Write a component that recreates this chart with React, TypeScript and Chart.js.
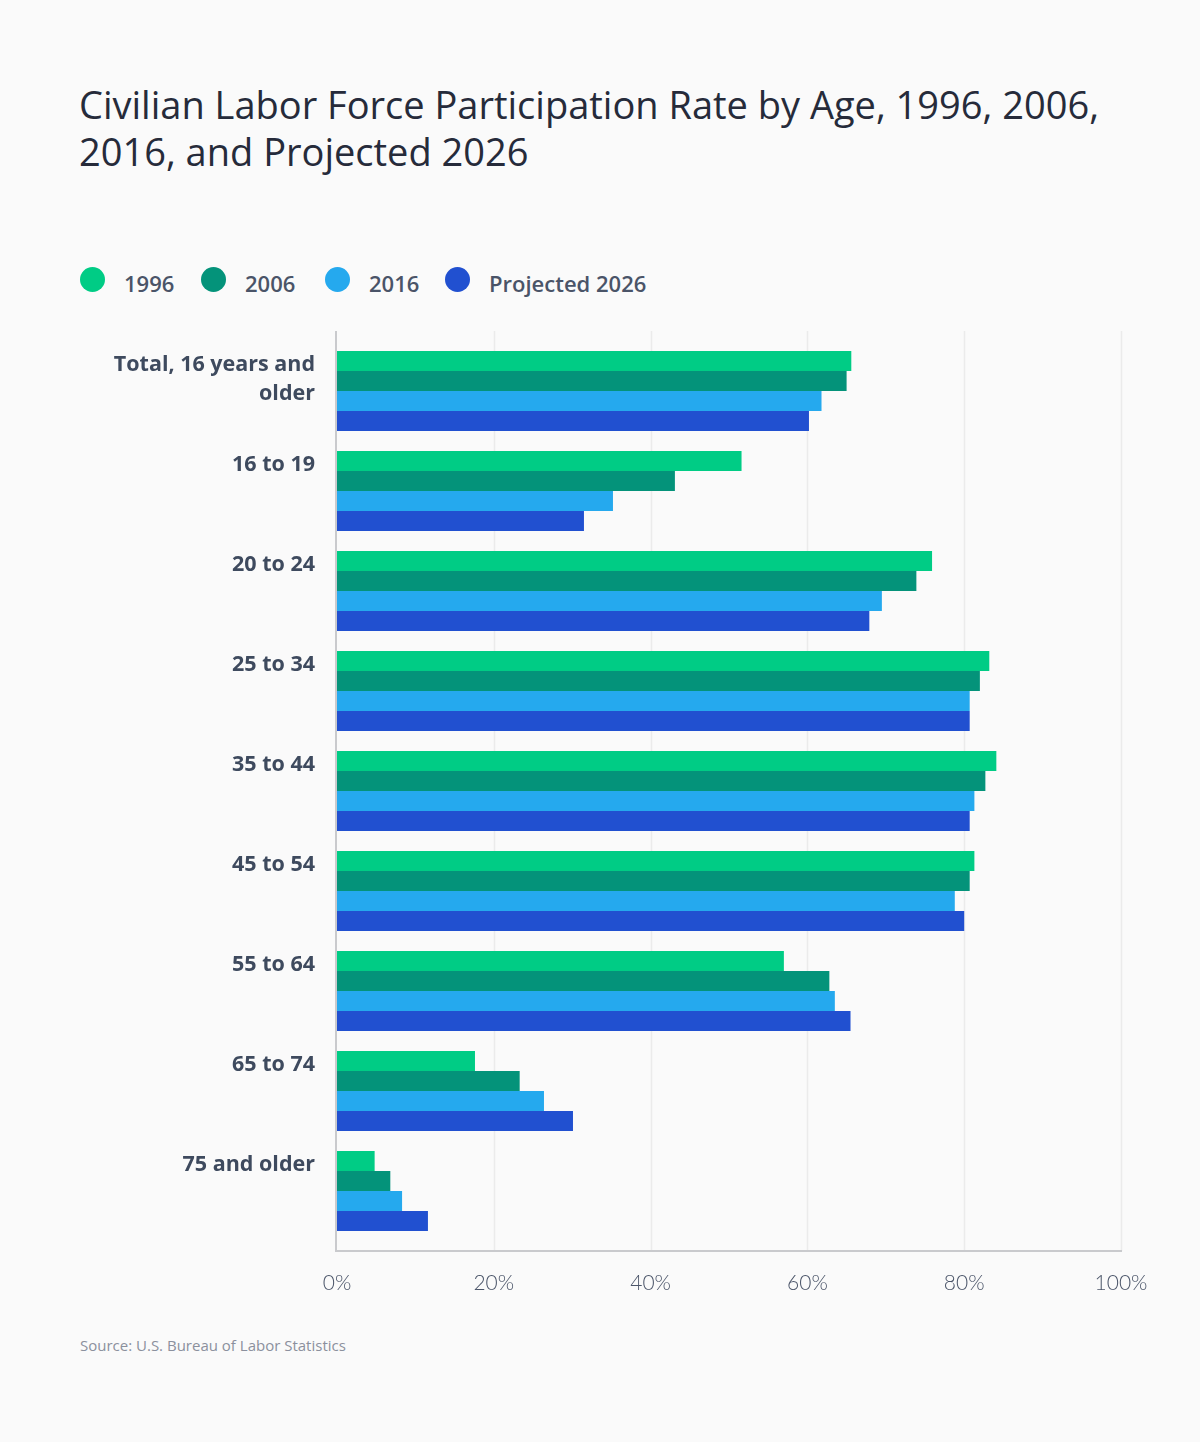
import React, { useEffect, useRef } from "react";
import { Chart, registerables } from "chart.js";

Chart.register(...registerables);

const categoryLines: string[][] = [
  ["Total, 16 years and", "older"],
  ["16 to 19", ""],
  ["20 to 24", ""],
  ["25 to 34", ""],
  ["35 to 44", ""],
  ["45 to 54", ""],
  ["55 to 64", ""],
  ["65 to 74", ""],
  ["75 and older", ""],
];

const seriesNames = ["1996", "2006", "2016", "Projected 2026"];
const seriesColors = ["#00cc85", "#04937a", "#25a9ee", "#2150d0"];
const legendX = [80, 201, 325, 445];

const v1996 = [65.6, 51.6, 75.9, 83.2, 84.1, 81.3, 57.0, 17.6, 4.8];
const v2006 = [65.0, 43.1, 73.9, 82.0, 82.7, 80.7, 62.8, 23.3, 6.8];
const v2016 = [61.8, 35.2, 69.5, 80.7, 81.3, 78.8, 63.5, 26.4, 8.3];
const v2026 = [60.2, 31.5, 67.9, 80.7, 80.7, 80.0, 65.5, 30.1, 11.6];

const xTicks = [0, 20, 40, 60, 80, 100];

const FONT = "'Open Sans', Lato, sans-serif";
const TICKFONT = "Lato, 'Open Sans', sans-serif";

const axesPlugin = {
  id: "customAxes",
  beforeDatasetsDraw(chart: any) {
    const { ctx, chartArea } = chart;
    const xs = chart.scales.x;
    const top = chartArea.top - 10;
    const bottom = chartArea.bottom + 10;
    ctx.save();
    ctx.strokeStyle = "#ebebeb";
    ctx.lineWidth = 1.5;
    xTicks.forEach((t) => {
      if (t === 0) return;
      const x = Math.round(xs.getPixelForValue(t)) + 0.5;
      ctx.beginPath();
      ctx.moveTo(x, top);
      ctx.lineTo(x, bottom);
      ctx.stroke();
    });
    ctx.restore();
  },
  afterDatasetsDraw(chart: any) {
    const { ctx, chartArea } = chart;
    const top = chartArea.top - 10;
    const bottom = chartArea.bottom + 10;
    ctx.save();
    ctx.strokeStyle = "#c9cacd";
    ctx.lineWidth = 2;
    ctx.beginPath();
    ctx.moveTo(chartArea.left - 1, top);
    ctx.lineTo(chartArea.left - 1, bottom);
    ctx.moveTo(chartArea.left - 2, bottom);
    ctx.lineTo(chartArea.right + 1, bottom);
    ctx.stroke();
    ctx.restore();
  },
};

export default function App() {
  const canvasRef = useRef<HTMLCanvasElement | null>(null);

  useEffect(() => {
    document.body.style.margin = "0";
    document.body.style.background = "#fafafa";
    const canvas = canvasRef.current;
    if (!canvas) return;
    const values = [v1996, v2006, v2016, v2026];
    const chart = new Chart(canvas, {
      type: "bar",
      data: {
        labels: categoryLines,
        datasets: seriesNames.map((name, i) => ({
          label: name,
          data: values[i],
          backgroundColor: seriesColors[i],
          borderWidth: 0,
          categoryPercentage: 0.8,
          barPercentage: 1.0,
        })),
      },
      options: {
        indexAxis: "y",
        responsive: false,
        animation: false,
        devicePixelRatio: 1,
        layout: { padding: { top: 61, right: 79, bottom: 0, left: 0 } },
        plugins: {
          legend: { display: false },
          tooltip: { enabled: false },
        },
        scales: {
          x: {
            type: "linear",
            min: 0,
            max: 100,
            afterBuildTicks: (scale: any) => {
              scale.ticks = xTicks.map((v) => ({ value: v }));
            },
            afterFit: (scale: any) => {
              scale.height = 79;
            },
            grid: { display: false, drawTicks: false },
            border: { display: false },
            ticks: {
              padding: 30,
              color: "#4b5569",
              font: { family: TICKFONT, size: 21, weight: "300" as any },
              callback: (v: any) => v + "%",
            },
          },
          y: {
            type: "category",
            offset: true,
            afterFit: (scale: any) => {
              scale.width = 337;
            },
            grid: { display: false, drawTicks: false },
            border: { display: false },
            ticks: {
              padding: 22,
              labelOffset: -12,
              color: "#3e4a5e",
              font: { family: FONT, size: 21.5, weight: "bold" as any, lineHeight: 1.35 },
            },
          },
        },
      },
      plugins: [axesPlugin],
    });
    return () => chart.destroy();
  }, []);

  return (
    <div
      style={{
        position: "relative",
        width: 1200,
        height: 1442,
        background: "#fafafa",
        overflow: "hidden",
        fontFamily: FONT,
      }}
    >
      <div
        style={{
          position: "absolute",
          left: 79,
          top: 81,
          fontSize: 38,
          lineHeight: "47px",
          color: "#262b3a",
          fontWeight: 400,
          whiteSpace: "nowrap",
        }}
      >
        Civilian Labor Force Participation Rate by Age, 1996, 2006,
        <br />
        2016, and Projected 2026
      </div>
      {seriesNames.map((name, i) => (
        <div
          key={name}
          style={{
            position: "absolute",
            left: legendX[i],
            top: 266,
            height: 26,
            display: "flex",
            alignItems: "center",
          }}
        >
          <span
            style={{
              width: 25,
              height: 25,
              borderRadius: "50%",
              background: seriesColors[i],
              display: "inline-block",
              marginRight: 19,
            }}
          />
          <span
            style={{
              fontSize: 22,
              fontWeight: 600,
              color: "#4a5468",
              position: "relative",
              top: 4,
            }}
          >
            {name}
          </span>
        </div>
      ))}
      <canvas
        ref={canvasRef}
        width={1200}
        height={1040}
        style={{ position: "absolute", left: 0, top: 280, width: 1200, height: 1040 }}
      />
      <div
        style={{
          position: "absolute",
          left: 80,
          top: 1335,
          fontSize: 15,
          color: "#8b909d",
        }}
      >
        Source: U.S. Bureau of Labor Statistics
      </div>
    </div>
  );
}
